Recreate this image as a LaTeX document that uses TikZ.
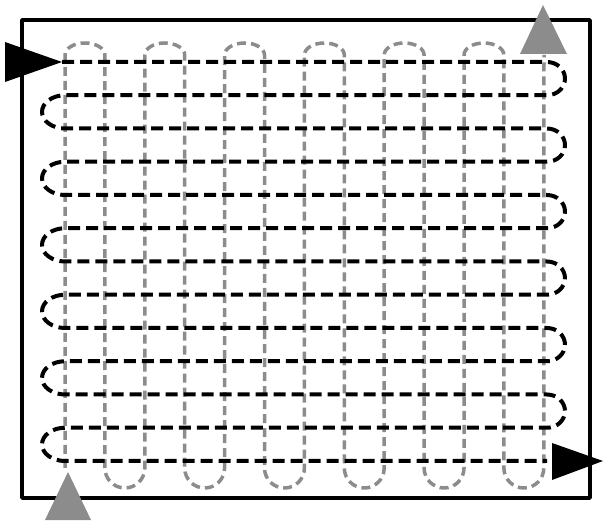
\documentclass[tikz,border=0pt]{standalone}
\usepackage{tikz}

\begin{document}
\begin{tikzpicture}[line cap=butt,line join=round,x=1pt,y=1pt,
		horiz/.style={black,line width=4pt,dash pattern=on 12pt off 6pt},
		vert/.style={black!45,line width=3.5pt,dash pattern=on 9pt off 5pt}]
			\useasboundingbox (0,0) rectangle (603,520);
			% Rahmen
			\draw[line width=3.5pt] (22,22) rectangle (590,500);
			% Bahn 2 (grau, senkrecht)
			\draw[vert] (65,52) \foreach \j in {0,2,...,10}{
				-- ({65+39.9*\j},465) arc[start angle=180,end angle=0,x radius=19.95,y radius=12]
				-- ({65+39.9*(\j+1)},52) arc[start angle=180,end angle=360,x radius=19.95,y radius=20]}
				-- (544,465);
			% Bahn 1 (schwarz, waagerecht)
			\draw[horiz] (62,458) \foreach \i in {0,2,...,10}{
				-- (547,{458-33.25*\i}) arc[start angle=90,end angle=-90,x radius=18,y radius=16.625]
				-- (65,{458-33.25*(\i+1)}) arc[start angle=90,end angle=270,x radius=23,y radius=16.625]}
				-- (547,59);
			% Pfeile
			\fill[black] (62,458)--(5,478)--(5,438)--cycle;
			\fill[black] (603,59)--(552,77)--(552,40)--cycle;
			\fill[black!45] (543,515)--(520,466)--(567,466)--cycle;
			\fill[black!45] (68,48)--(45,0)--(91,0)--cycle;
	\end{tikzpicture}
\end{document}
